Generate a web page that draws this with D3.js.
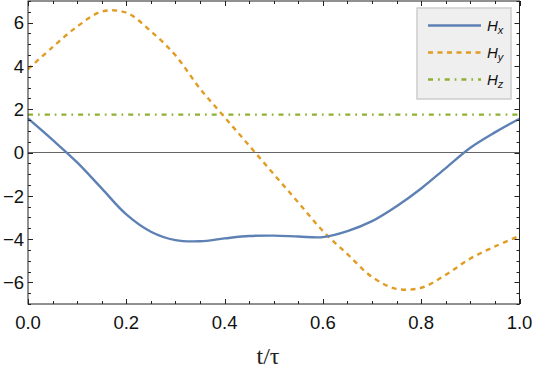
<!DOCTYPE html>
<html>
<head>
<meta charset="utf-8">
<script src="https://cdn.jsdelivr.net/npm/d3@7"></script>
<style>
  body { margin: 0; background: #fff; }
  svg { display: block; }
</style>
</head>
<body>
<svg id="chart" width="534" height="371"></svg>
<script>
// values (t/tau from 0 to 1)
const tVals = [0, 0.05, 0.1, 0.15, 0.2, 0.25, 0.3, 0.35, 0.4, 0.45, 0.5,
               0.55, 0.6, 0.65, 0.7, 0.75, 0.8, 0.85, 0.9, 0.95, 1.0];
const hx = [1.57, 0.58, -0.46, -1.66, -2.86, -3.66, -4.05, -4.1, -3.97, -3.86, -3.84,
            -3.88, -3.91, -3.63, -3.17, -2.48, -1.66, -0.72, 0.22, 0.93, 1.56];
const hy = [3.85, 4.87, 5.82, 6.51, 6.46, 5.6, 4.49, 2.95, 1.63, 0.32, -1.0,
            -2.31, -3.63, -4.7, -5.75, -6.3, -6.25, -5.65, -4.9, -4.34, -3.85];
const hz = 1.75;

const xTicks = [0, 0.2, 0.4, 0.6, 0.8, 1.0];
const yTicks = [-6, -4, -2, 0, 2, 4, 6];

const seriesNames = ["x", "y", "z"];
const colors = ["#5e81b5", "#e19c24", "#8fb032"];
const dashes = [null, "5,4.5", "5,5,1.7,5"];

const svg = d3.select("#chart");
const m = { left: 28, right: 519.5, top: 1, bottom: 304 };

const x = d3.scaleLinear().domain([0, 1]).range([m.left, m.right]);
const y = d3.scaleLinear().domain([-7, 7]).range([m.bottom, m.top]);

svg.append("defs").append("clipPath").attr("id", "clip")
  .append("rect").attr("x", m.left).attr("y", m.top)
  .attr("width", m.right - m.left).attr("height", m.bottom - m.top);

// zero line
svg.append("line")
  .attr("x1", m.left).attr("x2", m.right)
  .attr("y1", y(0)).attr("y2", y(0))
  .attr("stroke", "#666").attr("stroke-width", 1);

const line = d3.line()
  .x(d => x(d[0])).y(d => y(d[1]))
  .curve(d3.curveCatmullRom.alpha(0.5));

const plot = svg.append("g").attr("clip-path", "url(#clip)");
const dataSets = [
  tVals.map((t, i) => [t, hx[i]]),
  tVals.map((t, i) => [t, hy[i]]),
  tVals.map(t => [t, hz])
];
// Hz first, then Hy, then Hx on top
[2, 1, 0].forEach(i => {
  plot.append("path")
    .datum(dataSets[i])
    .attr("d", line)
    .attr("fill", "none")
    .attr("stroke", colors[i])
    .attr("stroke-width", 2.4)
    .attr("stroke-dasharray", dashes[i]);
});

// frame with inward ticks on all four sides
const xMinor = d3.range(0, 1.0001, 0.05);
const yMinor = d3.range(-7, 7.0001, 0.5);
const ax = svg.append("g").attr("stroke", "#222").attr("stroke-width", 1);

xMinor.forEach(v => {
  const major = xTicks.some(t => Math.abs(t - v) < 1e-6);
  const len = major ? 5 : 3;
  const px = Math.round(x(v)) + 0.5;
  ax.append("line").attr("x1", px).attr("x2", px).attr("y1", m.bottom).attr("y2", m.bottom - len);
  ax.append("line").attr("x1", px).attr("x2", px).attr("y1", m.top).attr("y2", m.top + len);
});
yMinor.forEach(v => {
  const major = yTicks.some(t => Math.abs(t - v) < 1e-6);
  const len = major ? 5 : 3;
  const py = Math.round(y(v)) + 0.5;
  ax.append("line").attr("x1", m.left).attr("x2", m.left + len).attr("y1", py).attr("y2", py);
  ax.append("line").attr("x1", m.right).attr("x2", m.right - len).attr("y1", py).attr("y2", py);
});
ax.append("rect")
  .attr("x", m.left).attr("y", m.top)
  .attr("width", m.right - m.left).attr("height", m.bottom - m.top)
  .attr("fill", "none");

const labelFont = "'Liberation Sans', Arial, sans-serif";
svg.append("g").selectAll("text").data(xTicks).join("text")
  .attr("x", d => x(d)).attr("y", 328.5)
  .attr("text-anchor", "middle")
  .attr("font-family", labelFont).attr("font-size", 18.5)
  .attr("fill", "#111")
  .text(d => d.toFixed(1));

svg.append("g").selectAll("text").data(yTicks).join("text")
  .attr("x", 24).attr("y", d => y(d) + 6.8)
  .attr("text-anchor", "end")
  .attr("font-family", labelFont).attr("font-size", 18.5)
  .attr("fill", "#111")
  .text(d => d < 0 ? "\u2212" + Math.abs(d) : d);

svg.append("text")
  .attr("x", 268).attr("y", 364)
  .attr("text-anchor", "middle")
  .attr("font-family", "'Liberation Serif', 'DejaVu Serif', serif")
  .attr("font-size", 24)
  .attr("fill", "#222")
  .text("t/\u03c4");

// legend
const lg = svg.append("g");
lg.append("rect")
  .attr("x", 417).attr("y", 8)
  .attr("width", 94).attr("height", 91)
  .attr("fill", "#efefef").attr("stroke", "#cdcdcd").attr("stroke-width", 1.5);
seriesNames.forEach((s, i) => {
  const ly = 25.5 + i * 27;
  lg.append("line")
    .attr("x1", 428).attr("x2", 481)
    .attr("y1", ly).attr("y2", ly)
    .attr("stroke", colors[i]).attr("stroke-width", 2.4)
    .attr("stroke-dasharray", dashes[i]);
  const t = lg.append("text")
    .attr("x", 487).attr("y", ly + 5.5)
    .attr("font-family", labelFont).attr("font-style", "italic")
    .attr("font-size", 15).attr("fill", "#111");
  t.append("tspan").text("H");
  t.append("tspan").attr("font-size", 11).attr("dy", 3).text(s);
});
</script>
</body>
</html>
